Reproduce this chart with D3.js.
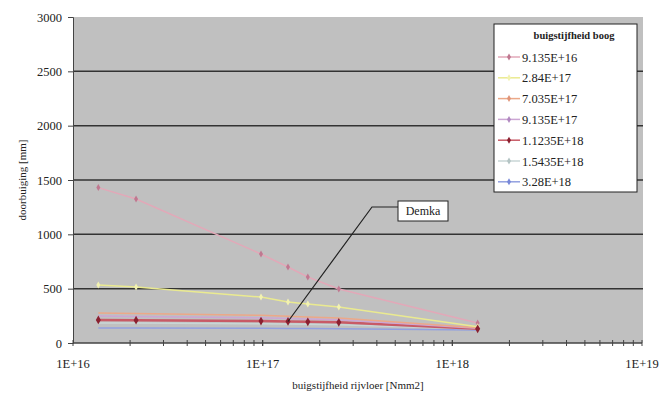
<!DOCTYPE html>
<html>
<head>
<meta charset="utf-8">
<script src="https://cdn.jsdelivr.net/npm/d3@7"></script>
<style>
  body { margin: 0; background: #fff; }
  text { font-family: "Liberation Serif", "Times New Roman", serif; fill: #222; }
</style>
</head>
<body>
<svg id="chart" width="662" height="403"></svg>
<script>
// stiffness of the floor (x) for every point
const xValues = [1.36e16, 2.15e16, 9.8e16, 1.36e17, 1.73e17, 2.52e17, 1.36e18];

// one series per arch stiffness
const seriesNames = ["9.135E+16", "2.84E+17", "7.035E+17", "9.135E+17", "1.1235E+18", "1.5435E+18", "3.28E+18"];
const pinkVals   = [1430, 1325, 819, 699, 607, 497, 184];
const yellowVals = [534, 515, 423, 377, 359, 331, 150];
const orangeVals = [276, 272, 255, 246, 240, 230, 140];
const purpleVals = [248, 245, 232, 226, 222, 214, 135];
const redVals    = [212, 210, 202, 198, 195, 190, 130];
const greyVals   = [184, 183, 177, 174, 172, 168, 128];
const blueVals   = [138, 137, 135, 134, 133, 131, 120];

const yTicks = [0, 500, 1000, 1500, 2000, 2500, 3000];
const xMajor = [1e16, 1e17, 1e18, 1e19];
const xLabels = ["1E+16", "1E+17", "1E+18", "1E+19"];

const series = [
  { name: seriesNames[0], values: pinkVals,   line: "#e2a8b8", mark: "#c07890", size: 14 },
  { name: seriesNames[1], values: yellowVals, line: "#eaea90", mark: "#f2f2b0", size: 14 },
  { name: seriesNames[2], values: orangeVals, line: "#eca888", mark: "#e09478", size: 0 },
  { name: seriesNames[3], values: purpleVals, line: "#cca6d4", mark: "#b088c0", size: 0 },
  { name: seriesNames[4], values: redVals,    line: "#c85a66", mark: "#8a2030", size: 22 },
  { name: seriesNames[5], values: greyVals,   line: "#c8d6d6", mark: "#b4c4c4", size: 0 },
  { name: seriesNames[6], values: blueVals,   line: "#92a0e0", mark: "#7888d8", size: 0 }
];

const svg = d3.select("#chart");
const plotLeft = 73, plotRight = 642, plotTop = 17, plotBottom = 343;

const x = d3.scaleLog().domain([1e16, 1e19]).range([plotLeft, plotRight]);
const y = d3.scaleLinear().domain([0, 3000]).range([plotBottom, plotTop]);

// plot area
svg.append("rect")
  .attr("x", plotLeft).attr("y", plotTop)
  .attr("width", plotRight - plotLeft + 1).attr("height", plotBottom - plotTop)
  .attr("fill", "#c0c0c0");

// gridlines
svg.selectAll(".grid")
  .data(yTicks.filter(d => d > 0 && d < 3000))
  .enter().append("line")
  .attr("x1", plotLeft).attr("x2", plotRight + 1)
  .attr("y1", d => y(d)).attr("y2", d => y(d))
  .attr("stroke", "#333").attr("stroke-width", 1.5);

// y axis
const yAxis = svg.append("g")
  .attr("transform", "translate(" + plotLeft + ",0)")
  .call(d3.axisLeft(y).tickValues(yTicks).tickFormat(d3.format("d")).tickSize(5).tickPadding(6));
yAxis.select(".domain").attr("stroke", "#444");
yAxis.selectAll(".tick line").attr("stroke", "#444");
yAxis.selectAll("text").style("font-size", "12.5px").attr("fill", "#333");

// x axis
const xAxis = svg.append("g")
  .attr("transform", "translate(0," + plotBottom + ")");
xAxis.append("line")
  .attr("x1", plotLeft).attr("x2", plotRight)
  .attr("stroke", "#444").attr("stroke-width", 1.5);
const minor = [];
xMajor.slice(0, 3).forEach(d => {
  for (let k = 1; k <= 10; k++) minor.push(d * k);
});
xAxis.selectAll(".mt")
  .data(minor)
  .enter().append("line")
  .attr("x1", d => x(d)).attr("x2", d => x(d))
  .attr("y1", -3).attr("y2", 3)
  .attr("stroke", "#444");
xAxis.selectAll(".xl")
  .data(xMajor)
  .enter().append("text")
  .attr("x", d => x(d))
  .attr("y", 25)
  .attr("text-anchor", "middle")
  .style("font-size", "12.5px")
  .attr("fill", "#333")
  .text((d, i) => xLabels[i]);

// axis titles
svg.append("text")
  .attr("transform", "translate(26,180) rotate(-90)")
  .attr("text-anchor", "middle")
  .style("font-size", "11px")
  .text("doorbuiging [mm]");
svg.append("text")
  .attr("x", 358).attr("y", 389)
  .attr("text-anchor", "middle")
  .style("font-size", "11px")
  .text("buigstijfheid rijvloer [Nmm2]");

// lines
const line = d3.line()
  .x((d, i) => x(xValues[i]))
  .y(d => y(d));

series.slice().reverse().forEach(s => {
  svg.append("path")
    .datum(s.values)
    .attr("fill", "none")
    .attr("stroke", s.line)
    .attr("stroke-width", s.name === "1.1235E+18" ? 2.5 : 1.5)
    .attr("d", line);
});
series.forEach(s => {
  if (!s.size) return;
  svg.selectAll(null)
    .data(s.values)
    .enter().append("path")
    .attr("transform", (d, i) => "translate(" + x(xValues[i]) + "," + y(d) + ")")
    .attr("d", d3.symbol().type(d3.symbolDiamond).size(s.size))
    .attr("fill", s.mark);
});

// annotation
const target = redVals[3];
const tx = x(xValues[3]), ty = y(target);
svg.append("polyline")
  .attr("points", [[tx, ty], [372, 207], [398, 207]].map(p => p.join(",")).join(" "))
  .attr("fill", "none")
  .attr("stroke", "#222")
  .attr("stroke-width", 1.2);
svg.append("rect")
  .attr("x", 398).attr("y", 201)
  .attr("width", 50).attr("height", 20)
  .attr("fill", "#fff").attr("stroke", "#222");
svg.append("text")
  .attr("x", 423).attr("y", 215)
  .attr("text-anchor", "middle")
  .style("font-size", "12px")
  .text("Demka");

// legend
const lg = svg.append("g").attr("transform", "translate(494,24)");
lg.append("rect")
  .attr("width", 143).attr("height", 168)
  .attr("fill", "#fff").attr("stroke", "#222");
lg.append("text")
  .attr("x", 80).attr("y", 15)
  .attr("text-anchor", "middle")
  .style("font-size", "10.5px")
  .style("font-weight", "bold")
  .text("buigstijfheid boog");
const item = lg.selectAll(".item")
  .data(series)
  .enter().append("g")
  .attr("transform", (d, i) => "translate(0," + (33 + i * 20.8) + ")");
item.append("line")
  .attr("x1", 4).attr("x2", 26)
  .attr("stroke", d => d.line).attr("stroke-width", 1.5);
item.append("path")
  .attr("transform", "translate(15,0)")
  .attr("d", d3.symbol().type(d3.symbolDiamond).size(14))
  .attr("fill", d => d.mark);
item.append("text")
  .attr("x", 28).attr("y", 4.5)
  .style("font-size", "12.5px")
  .attr("fill", "#333")
  .text(d => d.name);
</script>
</body>
</html>
